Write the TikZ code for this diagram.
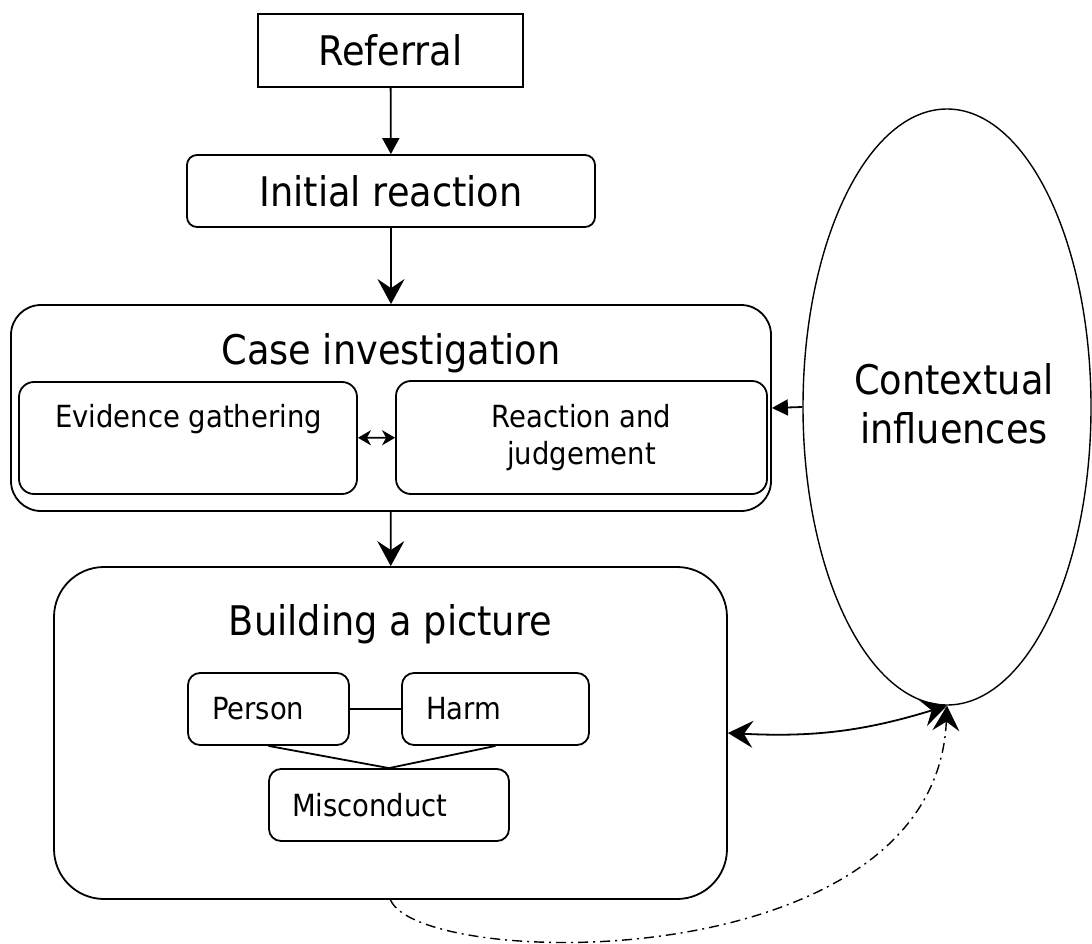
\documentclass[tikz,border=0pt]{standalone}
\usepackage{fontspec}
\setmainfont{DejaVu Sans}[FakeStretch=0.9]
\usetikzlibrary{arrows.meta,positioning,shapes.geometric}
\tikzset{every picture/.style={line width=1.8pt}}
\tikzstyle{bigtxt}=[font=\fontsize{40.8}{49}\selectfont]
\tikzstyle{smalltxt}=[font=\fontsize{30.5}{37}\selectfont]
\tikzstyle{rbox}=[draw,rounded corners=12pt,inner sep=0pt]
\tikzstyle{part}=[rbox,smalltxt,align=left,inner xsep=24pt,minimum height=72pt]
\tikzstyle{vee}=[-{Stealth[length=25pt,width=27pt,inset=9pt]}]
\tikzstyle{veeboth}=[{Stealth[length=25pt,width=27pt,inset=9pt]}-{Stealth[length=25pt,width=27pt,inset=9pt]}]
\tikzstyle{tri}=[-{Triangle[length=16pt,width=17pt]}]

\begin{document}
\begin{tikzpicture}[x=1pt,y=-1pt]
\useasboundingbox (0,0) rectangle (1092,944);
\node[draw,bigtxt,minimum width=265pt,minimum height=73pt] (ref) at (390.5,50.5) {Referral};
\node[rbox,rounded corners=10pt,bigtxt,minimum width=408pt,minimum height=72pt] (init) at (391,191) {Initial reaction};
\node[rbox,rounded corners=30pt,minimum width=760pt,minimum height=206pt] (case) at (391,408) {};
\node[bigtxt,anchor=base] (casetxt) at (391,364) {Case investigation};
\node[rbox,rounded corners=15pt,minimum width=338pt,minimum height=112pt] (evid) at (188,438) {};
\node[smalltxt,anchor=base] (evidtxt) at (188.5,427) {Evidence gathering};
\node[rbox,rounded corners=15pt,smalltxt,align=center,minimum width=371pt,minimum height=113pt] (react) at (581.5,437.5) {Reaction and\\judgement};
\node[draw,ellipse,line width=1.4pt,minimum width=288pt,minimum height=596pt,inner sep=0pt] (ctx) at (947,407) {};
\node[bigtxt,align=center] (ctxtxt) at (954,404) {Contextual\\influences};
\node[rbox,rounded corners=50pt,minimum width=673pt,minimum height=332pt] (build) at (390.5,733) {};
\node[bigtxt,anchor=base] (buildtxt) at (390.5,635) {Building a picture};
\node[part,text width=113pt] (person) at (268.5,709) {Person};
\node[part,text width=139pt] (harm) at (495.5,709) {Harm};
\node[part,text width=194pt,inner xsep=23pt] (misc) at (389,805) {Misconduct};

\draw[tri] (ref) -- (init);
\draw[vee] (init) -- (case);
\draw[vee] (case) -- (build);
\draw[{Stealth[length=13pt,width=15pt,inset=4pt]}-{Stealth[length=13pt,width=15pt,inset=4pt]}] (evid) -- (react);
\draw[-{Triangle[length=16pt,width=16pt]}] (ctx.west) -- (case.east);
\draw (person) -- (harm);
\draw (person.south) -- (misc.north) -- (harm.south);
\draw[veeboth] (ctx.south) to[bend left=10] (build.east);
\draw[vee,line width=1.4pt,dash pattern=on 10pt off 5pt on 2pt off 5pt] (build.south) .. controls (420,970) and (935,980) .. (ctx.south);
\end{tikzpicture}
\end{document}
